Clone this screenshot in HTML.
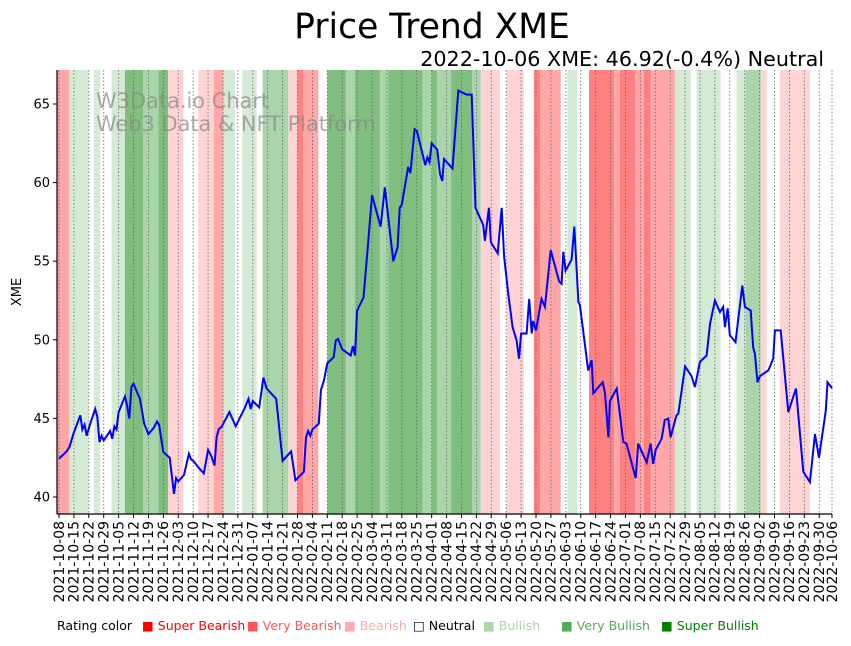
<!DOCTYPE html>
<html><head><meta charset="utf-8"><style>
body{margin:0;background:#fff;font-family:"Liberation Sans","DejaVu Sans",sans-serif}
svg text{font-family:"DejaVu Sans","Liberation Sans",sans-serif}
</style></head><body>
<svg id="chart" width="851" height="641" xmlns="http://www.w3.org/2000/svg">
<text x="432" y="38" font-size="34.5" text-anchor="middle">Price Trend XME</text>
<text x="824" y="66" font-size="20.7" text-anchor="end">2022-10-06 XME: 46.92(-0.4%) Neutral</text>
<g id="bands"></g>
<g id="grid"></g>
<text x="96" y="108" font-size="20.9" fill="#888" fill-opacity="0.7">W3Data.io Chart</text>
<text x="96" y="131" font-size="20.9" fill="#888" fill-opacity="0.7">Web3 Data &amp; NFT Platform</text>
<path id="line" fill="none" stroke="#0000ff" stroke-width="2"/>
<g id="axes"></g>
<text transform="translate(21,292) rotate(-90)" font-size="13" text-anchor="middle">XME</text>
<g font-size="12.5">
<text x="57" y="630">Rating color</text>
<text x="142" y="630" fill="#ff0000">■ Super Bearish</text>
<text x="247" y="630" fill="#ff5555">■ Very Bearish</text>
<text x="344" y="630" fill="#ffaaaa">■ Bearish</text>
<text x="413" y="630" fill="#000">□ Neutral</text>
<text x="483" y="630" fill="#aad5aa">■ Bullish</text>
<text x="561" y="630" fill="#55aa55">■ Very Bullish</text>
<text x="661" y="630" fill="#008000">■ Super Bullish</text>
</g>
</svg>
<script>
const tickLabels=["2021-10-08","2021-10-15","2021-10-22","2021-10-29","2021-11-05","2021-11-12","2021-11-19","2021-11-26","2021-12-03","2021-12-10","2021-12-17","2021-12-24","2021-12-31","2022-01-07","2022-01-14","2022-01-21","2022-01-28","2022-02-04","2022-02-11","2022-02-18","2022-02-25","2022-03-04","2022-03-11","2022-03-18","2022-03-25","2022-04-01","2022-04-08","2022-04-15","2022-04-22","2022-04-29","2022-05-06","2022-05-13","2022-05-20","2022-05-27","2022-06-03","2022-06-10","2022-06-17","2022-06-24","2022-07-01","2022-07-08","2022-07-15","2022-07-22","2022-07-29","2022-08-05","2022-08-12","2022-08-19","2022-08-26","2022-09-02","2022-09-09","2022-09-16","2022-09-23","2022-09-30","2022-10-06"];
const yTicks=[40,45,50,55,60,65];
const priceDays=[0,3.6,5,6.7,10,11,12,13,14.5,17,18,19,20,21,24,25,26,27,28,31,32,33,34,35,38,40,42,44.5,46,47,49,52,54,55,56,58.7,61,62,63,66,68,70,71.5,73,74,75,76.5,80,83,85.5,87,89,90,91,94,96,97.5,102,105,109,111,115,116,117,118,119,122,123,124.4,126,129,130,131,133,137,138,139,140,143,145,147,151,153,157,159,160,161,164,165,167,168,172,173,174,175,177.6,178.9,180,180.8,184.8,187.5,191.4,193.8,195.6,199.2,200,201.9,202.8,206,207.9,209,211,213,214.9,216,217,219.6,220.8,222,222.7,224,226.6,228.2,230.9,234.9,236,236.8,237.9,240.7,242,243.9,244.6,248.5,250.1,250.9,255.3,256.4,258,258.7,261.9,265,266.5,270.8,272,276,277.8,279,280.2,283,284.5,286.1,287.2,290,290.8,292.4,294,297,298.6,301,304.1,305.7,308,310.4,311.9,312.7,314,315,317.7,320.9,322.1,324.8,326,326.8,328,329.2,333.1,335.4,336.2,338.9,342.5,346.1,349.5,352.6,355,356.9,360.1,360.9,363];
const prices=[42.44,42.9,43.2,44.0,45.2,44.3,44.6,43.9,44.6,45.6,45.1,43.5,43.9,43.6,44.2,43.7,44.5,44.3,45.4,46.4,45.8,45.0,47.0,47.2,46.25,44.66,44.0,44.4,44.8,44.6,42.86,42.5,40.2,41.2,41.0,41.4,42.75,42.4,42.3,41.8,41.5,43.0,42.6,42.0,43.8,44.3,44.5,45.4,44.5,45.2,45.6,46.25,45.6,46.1,45.7,47.6,46.9,46.25,42.3,42.9,41.06,41.6,43.8,44.2,43.9,44.3,44.66,46.8,47.4,48.5,48.9,49.96,50.06,49.4,49.0,49.6,49.0,51.86,52.7,55.9,59.2,57.2,59.7,55.0,55.9,58.4,58.6,61.0,60.6,63.4,63.3,61.1,61.6,61.3,62.5,62.1,60.55,60.1,61.5,60.9,65.85,65.6,65.6,58.4,57.3,56.3,58.4,56.2,55.5,58.4,55.3,52.9,50.8,49.96,48.8,50.4,50.4,52.6,50.4,51.2,50.6,52.6,52.1,55.7,53.7,53.56,55.6,54.4,55.1,57.2,52.4,52.2,48.05,48.7,46.6,47.3,46.6,43.8,46.1,46.9,43.5,43.4,41.2,43.4,42.2,43.4,42.1,43.0,43.7,44.9,44.98,43.8,45.2,45.3,46.8,48.3,47.7,47.0,48.6,49.0,51.0,52.5,51.76,52.1,50.8,52.0,50.3,49.85,53.45,52.1,51.86,49.5,49.1,47.3,47.7,48.05,48.8,50.6,50.6,45.4,46.9,41.6,40.95,44.0,42.5,45.5,47.3,46.92];
const bandStarts=[0,4.9,6.7,13.8,16.4,19.3,24.7,31,39.6,46.6,51.3,58.4,65.4,72.8,77.2,82.6,86.1,92.8,95.6,107.7,111.9,114.7,121.8,126,134.8,139,150.7,154.6,170.8,175,177.6,184.1,194.1,198.1,207.1,210.2,218.3,223,225.9,235.6,238.7,243.4,248.9,260.6,263.4,270.5,274.7,277.8,289.2,296.6,299.4,310.7,318.2,322.4,329.6,332.3,338.5,352.6];
const bandRatings=[-2,1,1,0,1,0,1,3,2,3,-1,0,-1,-2,1,0,1,0,2,-1,-3,-2,0,3,2,3,2,3,2,3,2,3,2,-1,0,-1,0,-3,-2,0,1,0,-3,-2,-3,-2,-3,-2,1,0,1,0,1,2,-1,0,-1,0];
const totalDays=363;
const X0=59,X1=832,YT=70,YB=514;
const xs=d=>X0+d*(X1-X0)/totalDays;
const ys=v=>497-(v-40)*15.72;
const colors={"-3":"#ff8080","-2":"#ffa6a6","-1":"#ffd3d3","0":"none","1":"#d4ead4","2":"#aad5aa","3":"#80bf80"};
const NS="http://www.w3.org/2000/svg";
function mk(t,a,p){const e=document.createElementNS(NS,t);for(const k in a)e.setAttribute(k,a[k]);p.appendChild(e);return e;}
const bg=document.getElementById('bands');
bandStarts.forEach((s,i)=>{
  const e2=i+1<bandStarts.length?bandStarts[i+1]:totalDays;
  const c=colors[String(bandRatings[i])];
  if(c==="none")return;
  const r=mk('rect',{x:xs(s)-(i==0?2:0),y:YT,width:xs(e2)-xs(s)+(i==0?2:0),height:YB-YT,fill:c},bg);
  
  
});
const grid=document.getElementById('grid');
const ax=document.getElementById('axes');
tickLabels.forEach((lab,i)=>{
  const d=Math.min(i*7,totalDays);
  const x=xs(d);
  const g=mk('line',{x1:x,x2:x,y1:YT,y2:YB,stroke:"#666","stroke-width":0.8,"stroke-dasharray":"1.5,2"},grid);
  
  
  mk('line',{x1:x,x2:x,y1:YB,y2:YB+4,stroke:"#000"},ax);
  const t=mk('text',{transform:`translate(${x+4.8},${YB+7}) rotate(-90)`,"font-size":"14","text-anchor":"end"},ax);
  t.textContent=lab;
  
  
});
yTicks.forEach(v=>{
  const y=ys(v);
  mk('line',{x1:53,x2:57,y1:y,y2:y,stroke:"#000"},ax);
  const t=mk('text',{x:50,y:y+4.5,"font-size":"13","text-anchor":"end"},ax);
  t.textContent=v;
  
  
});
mk('line',{x1:57,x2:57,y1:YT,y2:YB,stroke:"#000","stroke-width":1.2},ax);
mk('line',{x1:57,x2:X1,y1:YB,y2:YB,stroke:"#000","stroke-width":1.2},ax);
document.getElementById('line').setAttribute('d',priceDays.map((d,i)=>(i?'L':'M')+xs(d).toFixed(1)+','+ys(prices[i]).toFixed(1)).join(''));
</script>
</body></html>
